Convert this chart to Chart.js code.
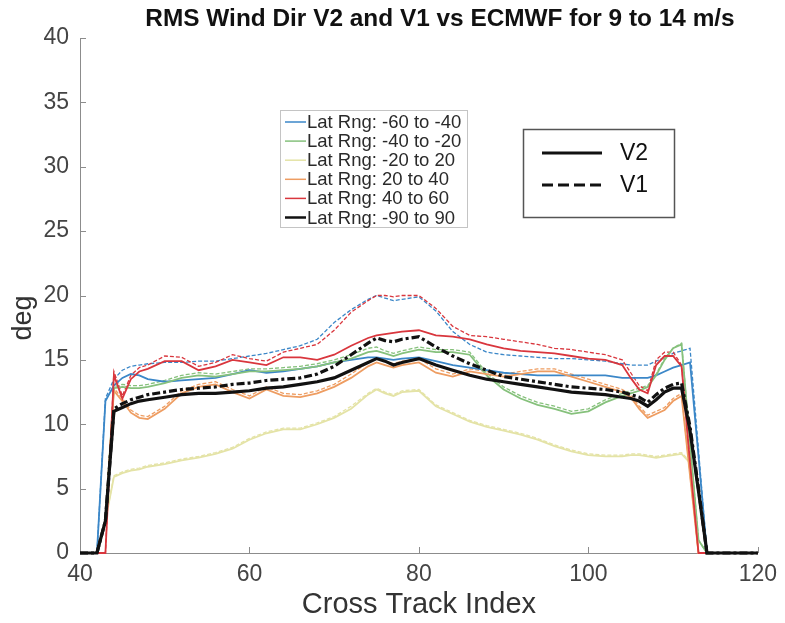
<!DOCTYPE html>
<html><head><meta charset="utf-8">
<script src="https://cdn.jsdelivr.net/npm/chart.js@4/dist/chart.umd.min.js"></script>
<style>html,body{margin:0;padding:0;background:#fff;overflow:hidden}#wrap{width:785px;height:623px;position:relative}</style>
</head><body><div id="wrap"><canvas id="c" width="785" height="623"></canvas></div>
<script>
// Cross track index positions (x values)
const crossTrack = [40,42,43,44,45,46,47,48,50,52,54,56,58,60,62,64,66,68,70,72,74,75,76,77,78,80,82,84,86,88,90,92,94,96,98,100,102,104,105,106,107,108,109,110,111,112,113,114,120];
const latRanges = ['-60 to -40','-40 to -20','-20 to 20','20 to 40','40 to 60','-90 to 90'];
const xTicks = [40,60,80,100,120];
const yTicks = [0,5,10,15,20,25,30,35,40];

// V2 (solid) RMS wind direction, deg
const v2_m60_m40 = [0,0,11.8,13.0,13.6,13.9,13.8,13.5, 13.3,13.4,13.5,13.6,13.9,14.2,14.0,14.1,14.3,14.5,14.8,15.0,15.2, 15.2,15.1,15.0,15.1, 15.2,14.9,14.6,14.4,14.2,14.0,13.9,13.8,13.8,13.8,13.8,13.8,13.6, 13.6,13.6,13.6,13.8,14.1,14.4,14.6, 14.8,7.5,0,0];
const v2_m40_m20 = [0,0,2.5,12.8,12.9,12.8,12.8,12.9, 13.2,13.6,13.8,13.7,13.9,14.1,14.1,14.2,14.3,14.5,14.8,15.1,15.6, 15.7,15.5,15.3,15.5, 15.8,15.6,15.6,15.4,13.8,12.7,12.0,11.5,11.2,10.8,11.0,11.7,12.2, 12.4,12.6,12.9,13.8,15.0,15.9,16.2, 8.5,1.0,0,0];
const v2_m20_20 = [0,0,2.5,5.9,6.2,6.4,6.5,6.7, 6.9,7.2,7.4,7.7,8.1,8.8,9.3,9.6,9.6,10.0,10.5,11.2,12.3, 12.7,12.4,12.2,12.5, 12.6,11.4,10.8,10.2,9.8,9.5,9.2,8.8,8.3,7.9,7.6,7.5,7.5, 7.6,7.6,7.5,7.4,7.5,7.6,7.7, 7.0,0,0,0];
const v2_20_40 = [0,0,2.5,12.6,11.8,10.9,10.5,10.4, 11.2,12.4,12.9,13.1,12.5,12.0,12.7,12.2,12.1,12.4,12.9,13.6,14.5, 14.8,14.6,14.4,14.6, 14.8,14.0,13.7,14.1,13.9,13.7,13.9,14.1,14.1,13.7,13.3,12.9,12.5, 12.1,11.2,10.5,10.8,11.1,11.8,12.2, 6.0,0,0,0];
const v2_40_60 = [0,0,0,13.8,12.0,13.5,14.1,14.3, 14.9,14.9,14.2,14.5,15.0,14.8,14.6,15.2,15.2,15.0,15.4,16.1,16.7, 16.9,17.0,17.1,17.2, 17.3,16.9,16.8,16.6,16.2,15.9,15.7,15.6,15.5,15.3,15.1,15.0,14.6, 13.6,12.7,12.4,14.6,15.3,15.3,14.5, 7.0,0,0,0];
const v2_m90_90 = [0,0,2.5,11.0,11.3,11.6,11.8,11.9, 12.1,12.3,12.4,12.4,12.5,12.6,12.8,12.9,13.1,13.3,13.6,14.2,14.8, 15.1,14.9,14.6,14.8, 15.1,14.6,14.2,13.8,13.5,13.3,13.1,12.9,12.7,12.5,12.4,12.3,12.1, 12.0,11.8,11.4,11.9,12.5,12.8,12.8, 9.5,4.8,0,0];

// V1 (dashed) RMS wind direction, deg
const v1_m60_m40 = [0,0,12.0,13.5,14.2,14.5,14.6,14.7, 14.8,14.8,14.9,14.9,15.1,15.3,15.5,15.8,16.1,16.6,17.9,18.9,19.7, 20.0,19.8,19.6,19.7, 19.9,18.8,17.2,16.2,15.6,15.4,15.3,15.2,15.1,15.1,15.0,14.9,14.7, 14.6,14.6,14.6,14.9,15.2,15.5,15.7, 15.9,8.0,0,0];
const v1_m40_m20 = [0,0,2.5,12.9,13.1,13.0,13.0,13.1, 13.4,13.8,14.0,13.9,14.1,14.3,14.3,14.4,14.5,14.7,15.0,15.4,15.9, 16.0,15.7,15.5,15.7, 16.0,15.8,15.8,15.6,14.0,12.9,12.2,11.7,11.4,11.0,11.2,11.9,12.4, 12.6,12.8,13.0,13.9,15.1,15.9,16.3, 8.6,1.0,0,0];
const v1_m20_20 = [0,0,2.5,6.0,6.3,6.5,6.6,6.8, 7.0,7.3,7.5,7.8,8.2,8.9,9.4,9.7,9.7,10.1,10.6,11.4,12.4, 12.8,12.5,12.3,12.6, 12.7,11.5,10.9,10.3,9.9,9.6,9.3,8.9,8.4,8.0,7.7,7.6,7.6, 7.7,7.7,7.6,7.5,7.6,7.7,7.8, 7.1,0,0,0];
const v1_20_40 = [0,0,2.5,12.8,12.0,11.1,10.7,10.6, 11.4,12.6,13.1,13.3,12.7,12.2,12.9,12.4,12.3,12.6,13.1,13.9,14.8, 15.1,14.9,14.7,14.9, 15.1,14.3,13.9,14.3,14.1,13.9,14.1,14.3,14.3,13.9,13.5,13.1,12.7, 12.3,11.4,10.7,11.0,11.3,12.0,12.4, 6.1,0,0,0];
const v1_40_60 = [0,0,0,14.1,12.2,13.8,14.4,14.6, 15.3,15.2,14.5,14.8,15.4,15.1,14.9,15.6,15.9,16.2,17.3,18.7,19.6, 20.0,20.0,19.9,20.0, 20.0,19.0,17.6,16.9,16.8,16.6,16.4,16.2,15.9,15.8,15.6,15.4,15.0, 14.0,13.0,12.6,15.0,15.6,15.6,14.6, 7.2,0,0,0];
const v1_m90_90 = [0,0,2.5,11.2,11.6,11.9,12.1,12.3, 12.5,12.7,12.8,12.9,13.1,13.2,13.4,13.5,13.6,13.9,14.5,15.4,16.3, 16.7,16.5,16.4,16.6, 16.8,16.0,15.3,14.7,14.2,13.7,13.5,13.3,13.1,12.9,12.8,12.7,12.5, 12.3,12.1,11.7,12.3,12.8,13.1,13.2, 9.8,5.0,0,0];

const v2Series = [v2_m60_m40, v2_m40_m20, v2_m20_20, v2_20_40, v2_40_60, v2_m90_90];
const v1Series = [v1_m60_m40, v1_m40_m20, v1_m20_20, v1_20_40, v1_40_60, v1_m90_90];
const colors = ['#3b87c8','#86c17c','#e4e3a6','#ee9d62','#d9363d','#111111'];

[...v2Series, ...v1Series].forEach((s,i)=>{ if (s.length !== crossTrack.length) throw new Error('length mismatch in series '+i+': '+s.length); });

const pts = arr => crossTrack.map((x,i)=>({x, y: arr[i]}));
const datasets = [];
latRanges.forEach((r,i)=>{
  const black = i === 5;
  datasets.push({label:'V1 Lat Rng: '+r, data:pts(v1Series[i]), borderColor:colors[i], borderWidth: black?3.2:1.3,
    borderDash: black?[8,3,3,3]:[4,2], pointRadius:0, fill:false, tension:0, clip:false, order: black?1:20-i});
  datasets.push({label:'V2 Lat Rng: '+r, data:pts(v2Series[i]), borderColor:colors[i], borderWidth: black?3.2:1.8,
    pointRadius:0, fill:false, tension:0, clip:false, order: black?0:10-i});
});

const FONT = '"Liberation Sans", Arial, sans-serif';

const decor = {
  id:'decor',
  beforeDatasetsDraw(chart){
    const {ctx, chartArea:a, scales:{x,y}} = chart;
    ctx.save();
    ctx.strokeStyle = '#8c8c8c'; ctx.lineWidth = 1;
    xTicks.forEach(v=>{ const px = Math.round(x.getPixelForValue(v))+0.5; ctx.beginPath(); ctx.moveTo(px,a.bottom); ctx.lineTo(px,a.bottom-6); ctx.stroke(); });
    yTicks.forEach(v=>{ const py = Math.round(y.getPixelForValue(v))+0.5; ctx.beginPath(); ctx.moveTo(a.left,py); ctx.lineTo(a.left+6,py); ctx.stroke(); });
    ctx.restore();
  },
  afterDraw(chart){
    const {ctx} = chart;
    ctx.save();
    // title
    ctx.fillStyle = '#111';
    ctx.font = 'bold 24.4px ' + FONT;
    ctx.textAlign = 'center'; ctx.textBaseline = 'middle';
    ctx.fillText('RMS Wind Dir V2 and V1 vs ECMWF for 9 to 14 m/s', 440, 19);
    // y title
    ctx.save();
    ctx.translate(24, 318); ctx.rotate(-Math.PI/2);
    ctx.font = '27px ' + FONT; ctx.fillStyle = '#333';
    ctx.fillText('deg', 0, 0);
    ctx.restore();
    // legend 1
    ctx.fillStyle = '#fff'; ctx.fillRect(280.5,110.5,187,117);
    ctx.strokeStyle = '#c4c4c4'; ctx.lineWidth = 1; ctx.strokeRect(280.5,110.5,187,117);
    ctx.font = '18.5px ' + FONT; ctx.textAlign = 'left'; ctx.textBaseline = 'middle';
    latRanges.forEach((r,i)=>{
      const yy = 122 + i*19.1;
      ctx.strokeStyle = colors[i]; ctx.lineWidth = i===5?2.5:1.5; ctx.setLineDash([]);
      ctx.beginPath(); ctx.moveTo(285, yy); ctx.lineTo(306, yy); ctx.stroke();
      ctx.fillStyle = '#2a2a2a'; ctx.fillText('Lat Rng: ' + r, 307, yy+1);
    });
    // legend 2
    ctx.fillStyle = '#fff'; ctx.fillRect(523.5,129.5,151,88);
    ctx.strokeStyle = '#555'; ctx.lineWidth = 1.5; ctx.strokeRect(523.5,129.5,151,88);
    ctx.strokeStyle = '#111'; ctx.lineWidth = 3;
    ctx.beginPath(); ctx.moveTo(542,153); ctx.lineTo(602,153); ctx.stroke();
    ctx.setLineDash([11,5]);
    ctx.beginPath(); ctx.moveTo(542,185); ctx.lineTo(602,185); ctx.stroke();
    ctx.setLineDash([]);
    ctx.fillStyle = '#111'; ctx.font = '23px ' + FONT;
    ctx.fillText('V2', 620, 154); ctx.fillText('V1', 620, 186);
    ctx.restore();
  }
};

new Chart(document.getElementById('c'), {
  type:'line',
  data:{datasets},
  options:{
    responsive:false, animation:false, events:[],
    layout:{padding:{left:0, top:38, right:25, bottom:0}},
    plugins:{legend:{display:false}, title:{display:false}, tooltip:{enabled:false}},
    scales:{
      x:{type:'linear', min:40, max:120,
        afterBuildTicks: s => { s.ticks = xTicks.map(v=>({value:v})); },
        afterFit: s => { s.height = 70; },
        grid:{display:false, drawTicks:false},
        border:{display:true, color:'#8c8c8c', width:1},
        ticks:{font:{family:FONT, size:23}, color:'#444', padding:8, maxRotation:0},
        title:{display:true, text:'Cross Track Index', font:{family:FONT, size:29}, color:'#333', padding:{top:0,bottom:1}}
      },
      y:{type:'linear', min:0, max:40,
        afterBuildTicks: s => { s.ticks = yTicks.map(v=>({value:v})); },
        afterFit: s => { s.width = 80; },
        grid:{display:false, drawTicks:false},
        border:{display:true, color:'#8c8c8c', width:1},
        ticks:{font:{family:FONT, size:23}, color:'#444', padding:11}
      }
    }
  },
  plugins:[decor]
});
</script></body></html>
